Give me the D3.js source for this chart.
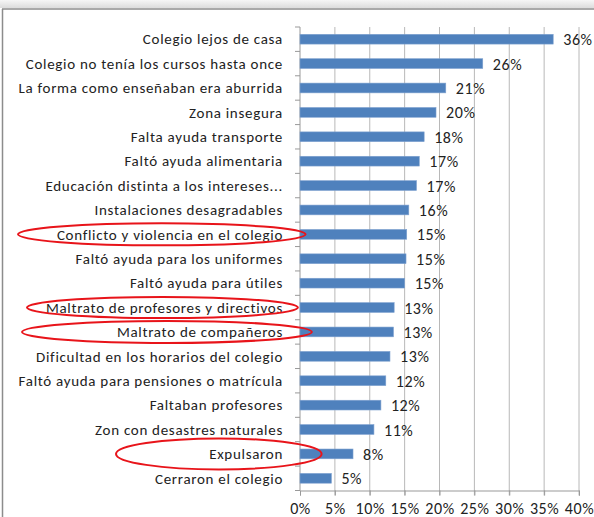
<!DOCTYPE html>
<html>
<head>
<meta charset="utf-8">
<script src="https://cdn.jsdelivr.net/npm/d3@7"></script>
<style>
  body { margin: 0; background: #fff; }
  svg text { font-family: "Carlito", "Open Sans", sans-serif; fill: #222; }
</style>
</head>
<body>
<svg width="594" height="517"></svg>
<script>
var categories = [
  "Colegio lejos de casa",
  "Colegio no tenía los cursos hasta once",
  "La forma como enseñaban era aburrida",
  "Zona insegura",
  "Falta ayuda transporte",
  "Faltó ayuda alimentaria",
  "Educación distinta a los intereses...",
  "Instalaciones desagradables",
  "Conflicto y violencia en el colegio",
  "Faltó ayuda para los uniformes",
  "Faltó ayuda para útiles",
  "Maltrato de profesores y directivos",
  "Maltrato de compañeros",
  "Dificultad en los horarios del colegio",
  "Faltó ayuda para pensiones o matrícula",
  "Faltaban profesores",
  "Zon con desastres naturales",
  "Expulsaron",
  "Cerraron el colegio"
];
var values = [36.3, 26.2, 20.9, 19.5, 17.8, 17.1, 16.7, 15.6, 15.3, 15.2, 15.0, 13.5, 13.4, 12.9, 12.3, 11.6, 10.6, 7.6, 4.5];
var valueLabels = ["36%", "26%", "21%", "20%", "18%", "17%", "17%", "16%", "15%", "15%", "15%", "13%", "13%", "13%", "12%", "12%", "11%", "8%", "5%"];
var xTicks = [0, 5, 10, 15, 20, 25, 30, 35, 40];

// circled categories (red ellipses drawn by hand in the original)
var circled = ["Conflicto y violencia en el colegio", "Maltrato de profesores y directivos", "Maltrato de compañeros", "Expulsaron"];
var circleLeft = [18, 27, 22, 116];
var circleRight = [0.8, -0.3, 1.7, 3.1];
var circleRy = [11, 10.5, 11, 15.5];

var svg = d3.select("svg"),
    margin = {top: 27, right: 15, bottom: 27, left: 300},
    width = 579 - margin.left,
    height = 490.5 - margin.top;

// frame of the screenshot
var grad = svg.append("defs").append("linearGradient")
    .attr("id", "topshade").attr("x1", 0).attr("y1", 0).attr("x2", 0).attr("y2", 1);
grad.append("stop").attr("offset", "0%").attr("stop-color", "#f6f6f6");
grad.append("stop").attr("offset", "100%").attr("stop-color", "#dcdcdc");
svg.append("rect").attr("x", 0).attr("y", 0).attr("width", 594).attr("height", 8).attr("fill", "url(#topshade)");
svg.append("line").attr("x1", 2).attr("x2", 594).attr("y1", 9).attr("y2", 9)
    .attr("stroke", "#8c8c8c").attr("stroke-width", 1.5);
svg.append("line").attr("x1", 2.5).attr("x2", 2.5).attr("y1", 9).attr("y2", 517)
    .attr("stroke", "#8c8c8c").attr("stroke-width", 1.5);

var g = svg.append("g").attr("transform", "translate(" + margin.left + "," + margin.top + ")");

var x = d3.scaleLinear().domain([0, 40]).range([0, width]);
var y = d3.scaleBand().domain(categories).range([0, height]).paddingInner(0.6).paddingOuter(0.3);

// vertical gridlines + bottom ticks
g.selectAll(".grid")
    .data(xTicks.slice(1))
    .enter().append("line")
    .attr("x1", function(d) { return x(d); })
    .attr("x2", function(d) { return x(d); })
    .attr("y1", 0)
    .attr("y2", height + 5)
    .attr("stroke", "#b8b8b8")
    .attr("stroke-width", 1);

var xAxis = g.append("g")
    .attr("transform", "translate(0," + height + ")")
    .call(d3.axisBottom(x).tickValues(xTicks).tickSize(5).tickFormat(function(d) { return d + "%"; }));
xAxis.select(".domain").attr("stroke", "#999");
xAxis.selectAll(".tick line").attr("stroke", "#999");
xAxis.selectAll("text")
    .attr("font-size", 16)
    .attr("letter-spacing", "0.6px")
    .attr("dy", "0.95em")
    .attr("fill", "#222");

// y axis with ticks between categories
var yEdges = d3.range(categories.length + 1).map(function(i) { return i * height / categories.length; });
g.append("line").attr("x1", 0).attr("x2", 0).attr("y1", 0).attr("y2", height).attr("stroke", "#999");
g.selectAll(".ytick")
    .data(yEdges)
    .enter().append("line")
    .attr("x1", -5).attr("x2", 0)
    .attr("y1", function(d) { return d; })
    .attr("y2", function(d) { return d; })
    .attr("stroke", "#999");

g.selectAll(".catlabel")
    .data(categories)
    .enter().append("text")
    .attr("x", -17)
    .attr("y", function(d) { return y(d) + y.bandwidth() / 2; })
    .attr("dy", "0.35em")
    .attr("text-anchor", "end")
    .attr("font-size", 15)
    .attr("letter-spacing", "0.7px")
    .text(function(d) { return d; });

// bars
g.selectAll(".bar")
    .data(values)
    .enter().append("rect")
    .attr("x", 0)
    .attr("y", function(d, i) { return y(categories[i]); })
    .attr("width", function(d) { return x(d); })
    .attr("height", y.bandwidth())
    .attr("fill", "#4f81bd")
    .attr("stroke", "#7ea1cf")
    .attr("stroke-width", 0.6);

g.selectAll(".vlabel")
    .data(values)
    .enter().append("text")
    .attr("x", function(d) { return x(d) + 10; })
    .attr("y", function(d, i) { return y(categories[i]) + y.bandwidth() / 2; })
    .attr("dy", "0.38em")
    .attr("font-size", 16)
    .attr("letter-spacing", "0.6px")
    .text(function(d, i) { return valueLabels[i]; });

// red ellipses
svg.selectAll(".ring")
    .data(circled)
    .enter().append("ellipse")
    .attr("cx", function(d, i) { return (circleLeft[i] + margin.left + x(circleRight[i])) / 2; })
    .attr("cy", function(d) { return margin.top + y(d) + y.bandwidth() / 2; })
    .attr("rx", function(d, i) { return (margin.left + x(circleRight[i]) - circleLeft[i]) / 2; })
    .attr("ry", function(d, i) { return circleRy[i]; })
    .attr("fill", "none")
    .attr("stroke", "#e8141a")
    .attr("stroke-width", 2);
</script>
</body>
</html>
